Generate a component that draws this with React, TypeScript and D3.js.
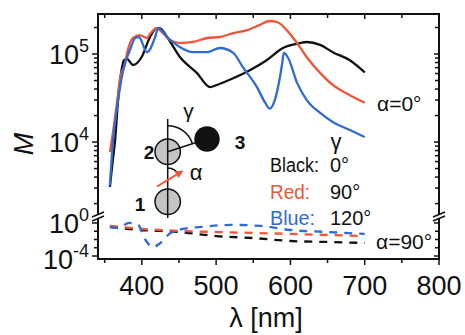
import { useEffect, useRef } from 'react'
import * as d3 from 'd3'

const W = 465
const H = 335

// alpha = 0 deg (solid): wavelength [nm] and M
const blackL = [357, 361, 364, 368, 372, 376, 380, 388, 400, 411, 420, 424, 434, 451, 474, 492, 501, 523, 546, 568, 590, 613, 622, 640, 657, 680, 700]
const blackM = [3.1e3, 6.3e3, 1.05e4, 3.0e4, 6.0e4, 8.5e4, 8.8e4, 7.5e4, 9.3e4, 1.56e5, 1.97e5, 1.97e5, 1.56e5, 9.3e4, 6.1e4, 4.2e4, 4.45e4, 5.3e4, 6.6e4, 8.5e4, 1.17e5, 1.33e5, 1.37e5, 1.27e5, 1.05e5, 8.5e4, 6.2e4]
const redL = [357, 361, 367, 371, 377, 381, 388, 397, 407, 411, 420, 424, 438, 451, 469, 488, 505, 523, 542, 559, 572, 582, 595, 609, 622, 640, 657, 680, 700]
const redM = [7.7e3, 1.26e4, 3.0e4, 5.5e4, 7.5e4, 1.1e5, 1.52e5, 1.64e5, 1.52e5, 1.69e5, 1.97e5, 1.87e5, 1.44e5, 1.33e5, 1.37e5, 1.52e5, 1.56e5, 1.73e5, 1.87e5, 2.14e5, 2.37e5, 2.31e5, 1.87e5, 1.33e5, 9.2e4, 6.1e4, 4.45e4, 3.4e4, 2.8e4]
const blueL = [357, 361, 368, 375, 384, 391, 396, 407, 418, 422, 434, 451, 469, 488, 505, 523, 536, 555, 566, 572, 579, 589, 591, 597, 609, 622, 640, 657, 680, 700]
const blueM = [3.2e3, 9.8e3, 3.0e4, 6.6e4, 1.11e5, 1.52e5, 1.56e5, 1.05e5, 1.56e5, 1.97e5, 1.56e5, 1.2e5, 1.05e5, 1.05e5, 1.17e5, 1.03e5, 7.1e4, 4.2e4, 2.8e4, 2.4e4, 3.0e4, 7.9e4, 1.03e5, 9.0e4, 4.7e4, 3.0e4, 2.14e4, 1.69e4, 1.37e4, 1.14e4]

// alpha = 90 deg (dashed)
const lam90 = [357, 400, 450, 500, 550, 600, 650, 700]
const black90M = [0.33, 0.14, 0.081, 0.026, 0.015, 0.0066, 0.005, 0.0038]
const red90M = [0.44, 0.19, 0.11, 0.081, 0.062, 0.047, 0.035, 0.026]
const blue90L = [357, 368, 383, 395, 405, 415, 425, 437, 455, 480, 520, 560, 600, 650, 700]
const blue90M = [0.33, 0.25, 1.0, 0.58, 0.0087, 0.0012, 0.0038, 0.047, 0.19, 0.33, 0.58, 0.44, 0.14, 0.081, 0.047]

const xTicks = [400, 500, 600, 700, 800]
const xMinor = [350, 450, 550, 650, 750]
const yTopTicks = [1e5, 1e4]
const yTopExp = ['5', '4']
const yBotTicks = [1, 1e-4]
const yBotExp = ['0', '-4']
const yBotMinor = [1e-1, 1e-2, 1e-3]

const legendNames = ['Black:', 'Red:', 'Blue:']
const legendGamma = ['0°', '90°', '120°']
const colors = ['#111111', '#f2553a', '#2f6bd2']

export default function App() {
  const svgRef = useRef<SVGSVGElement>(null)

  useEffect(() => {
    if (!svgRef.current) return
    const svg = d3.select(svgRef.current)
    svg.selectAll('*').remove()
    const font = '"Liberation Sans", Arial, Helvetica, sans-serif'

    const x = d3.scaleLinear().domain([341, 800]).range([98, 439])
    const yTop = d3.scaleLog().domain([10 ** 3.16, 10 ** 5.4545]).range([216, 14])
    const yBot = d3.scaleLog().domain([10 ** -4.36, 10 ** 0.6]).range([259, 218])
    const [x0, x1] = x.range()
    const yT = 14, yB = 259, yBreak = 215

    // solid curves
    const solid: [number[], number[]][] = [[blackL, blackM], [redL, redM], [blueL, blueM]]
    solid.forEach(([L, M], i) => {
      const line = d3.line<number>().x((_, j) => x(L[j])).y(d => yTop(d)).curve(d3.curveMonotoneX)
      svg.append('path').attr('d', line(M)).attr('fill', 'none')
        .attr('stroke', colors[i]).attr('stroke-width', 2.3).attr('stroke-linejoin', 'round')
    })

    // dashed curves
    const dashed: [number[], number[]][] = [[lam90, black90M], [lam90, red90M], [blue90L, blue90M]]
    dashed.forEach(([L, M], i) => {
      const line = d3.line<number>().x((_, j) => x(L[j])).y(d => yBot(d)).curve(d3.curveMonotoneX)
      svg.append('path').attr('d', line(M)).attr('fill', 'none')
        .attr('stroke', colors[i]).attr('stroke-width', 2.3).attr('stroke-dasharray', '8,7')
    })

    // frame
    svg.append('rect').attr('x', x0).attr('y', yT).attr('width', x1 - x0).attr('height', yB - yT)
      .attr('fill', 'none').attr('stroke', '#111').attr('stroke-width', 2)

    const tick = (x1_: number, y1_: number, x2_: number, y2_: number) =>
      svg.append('line').attr('x1', x1_).attr('y1', y1_).attr('x2', x2_).attr('y2', y2_)
        .attr('stroke', '#111').attr('stroke-width', 1.5)

    // x ticks: bottom outward, top inward
    xTicks.forEach(v => { tick(x(v), yB, x(v), yB + 6); tick(x(v), yT, x(v), yT + 5) })
    xMinor.forEach(v => { tick(x(v), yB, x(v), yB + 4); tick(x(v), yT, x(v), yT + 4) })
    xTicks.forEach(v => {
      svg.append('text').attr('x', x(v)).attr('y', 295).attr('text-anchor', 'middle')
        .attr('font-family', font).attr('font-size', 27).attr('fill', '#111').text(v)
    })

    // y ticks
    const topMinor: number[] = []
    for (let e = 3; e <= 5; e++) for (let k = 2; k <= 9; k++) {
      const v = k * 10 ** e
      if (v >= yTop.domain()[0] && v <= yTop.domain()[1]) topMinor.push(v)
    }
    const yMaj = [...yTopTicks.map(v => yTop(v)), ...yBotTicks.map(v => yBot(v))]
    const yMin = [...topMinor.map(v => yTop(v)), ...yBotMinor.map(v => yBot(v))]
    yMaj.forEach(y => { tick(x0 - 6, y, x0, y); tick(x1 - 5, y, x1, y) })
    yMin.forEach(y => { tick(x0 - 4, y, x0, y); tick(x1 - 4, y, x1, y) })

    const expLabel = (y: number, exp: string) => {
      const t = svg.append('text').attr('x', 89).attr('y', y + 10).attr('text-anchor', 'end')
        .attr('font-family', font).attr('font-size', 27).attr('fill', '#111')
      t.append('tspan').text('10')
      t.append('tspan').attr('dy', -12).attr('font-size', 18).text(exp)
    }
    yTopTicks.forEach((v, i) => expLabel(yTop(v), yTopExp[i]))
    yBotTicks.forEach((v, i) => expLabel(yBot(v) + (i === 1 ? 3 : 0), yBotExp[i]))

    // axis breaks
    ;[x0, x1].forEach(bx => {
      svg.append('polygon')
        .attr('points', [[bx - 6, yBreak + 2], [bx + 6, yBreak - 3], [bx + 6, yBreak + 1], [bx - 6, yBreak + 6]].map(p => p.join(',')).join(' '))
        .attr('fill', '#fff')
      tick(bx - 6, yBreak + 2, bx + 6, yBreak - 3)
      tick(bx - 6, yBreak + 6, bx + 6, yBreak + 1)
    })

    // axis titles
    svg.append('text').attr('x', 266).attr('y', 327).attr('text-anchor', 'middle')
      .attr('font-family', font).attr('font-size', 27).attr('fill', '#111').text('λ [nm]')
    svg.append('text').attr('transform', 'translate(33,144) rotate(-90)').attr('text-anchor', 'middle')
      .attr('font-family', font).attr('font-size', 27).attr('font-style', 'italic').attr('fill', '#111').text('M')

    // series labels
    svg.append('text').attr('x', 377).attr('y', 111).attr('font-family', font).attr('font-size', 21)
      .attr('fill', '#111').text('α=0°')
    svg.append('text').attr('x', 376).attr('y', 248.5).attr('font-family', font).attr('font-size', 21)
      .attr('fill', '#111').text('α=90°')

    // legend
    svg.append('text').attr('x', 336).attr('y', 149).attr('text-anchor', 'middle').attr('font-family', font)
      .attr('font-size', 22).attr('fill', '#111').text('γ')
    const nameLen = [49, 40, 45]
    legendNames.forEach((n, i) => {
      const by = 172 + i * 26.5
      svg.append('text').attr('x', 270).attr('y', by).attr('font-family', font).attr('font-size', 20)
        .attr('textLength', nameLen[i]).attr('lengthAdjust', 'spacingAndGlyphs')
        .attr('fill', colors[i]).text(n)
      svg.append('text').attr('x', 330).attr('y', by).attr('font-family', font).attr('font-size', 20)
        .attr('fill', '#111').text(legendGamma[i])
    })

    // trimer sketch
    const cx = 167.7
    const c2 = [cx, 151.7], c1 = [cx, 201.7], c3 = [207, 139]
    svg.append('circle').attr('cx', c2[0]).attr('cy', c2[1]).attr('r', 12.7).attr('fill', '#c4c4c4').attr('stroke', '#111').attr('stroke-width', 1.5)
    svg.append('circle').attr('cx', c1[0]).attr('cy', c1[1]).attr('r', 12.7).attr('fill', '#c4c4c4').attr('stroke', '#111').attr('stroke-width', 1.5)
    svg.append('circle').attr('cx', c3[0]).attr('cy', c3[1]).attr('r', 12.7).attr('fill', '#111')
    tick(cx, 119, cx, 218)
    tick(c2[0], c2[1], c3[0], c3[1])
    const gArc = d3.arc()({ innerRadius: 26, outerRadius: 26, startAngle: 0, endAngle: 1.25 } as d3.DefaultArcObject)
    svg.append('path').attr('d', gArc!).attr('transform', `translate(${c2[0]},${c2[1]})`)
      .attr('fill', 'none').attr('stroke', '#111').attr('stroke-width', 1.5)
    const aArc = d3.arc()({ innerRadius: 12, outerRadius: 12, startAngle: 0, endAngle: 1.15 } as d3.DefaultArcObject)
    svg.append('path').attr('d', aArc!).attr('transform', `translate(${cx},180)`)
      .attr('fill', 'none').attr('stroke', '#111').attr('stroke-width', 1.5)
    // red arrow
    const a0 = [157, 186.5], a1 = [183.5, 170.5]
    const ang = Math.atan2(a1[1] - a0[1], a1[0] - a0[0])
    const hl = 8, hw = 3.8
    const bx = a1[0] - hl * Math.cos(ang), by = a1[1] - hl * Math.sin(ang)
    svg.append('line').attr('x1', a0[0]).attr('y1', a0[1]).attr('x2', bx).attr('y2', by)
      .attr('stroke', colors[1]).attr('stroke-width', 2)
    svg.append('polygon').attr('points', [
      a1,
      [bx + hw * Math.sin(ang), by - hw * Math.cos(ang)],
      [bx - hw * Math.sin(ang), by + hw * Math.cos(ang)],
    ].map(p => p.join(',')).join(' ')).attr('fill', colors[1])

    const lbl = (tx: number, ty: number, s: string, bold: boolean, size: number) =>
      svg.append('text').attr('x', tx).attr('y', ty).attr('text-anchor', 'middle').attr('font-family', font)
        .attr('font-size', size).attr('font-weight', bold ? 700 : 400).attr('fill', '#111').text(s)
    lbl(149, 158.5, '2', true, 19)
    lbl(140, 210.5, '1', true, 19)
    lbl(240, 148.5, '3', true, 19)
    lbl(188.5, 118, 'γ', false, 21)
    lbl(196, 180, 'α', false, 22)
  }, [])

  return (
    <svg ref={svgRef} width={W} height={H}
      style={{ position: 'absolute', left: 0, top: 0, background: '#fff' }} />
  )
}
